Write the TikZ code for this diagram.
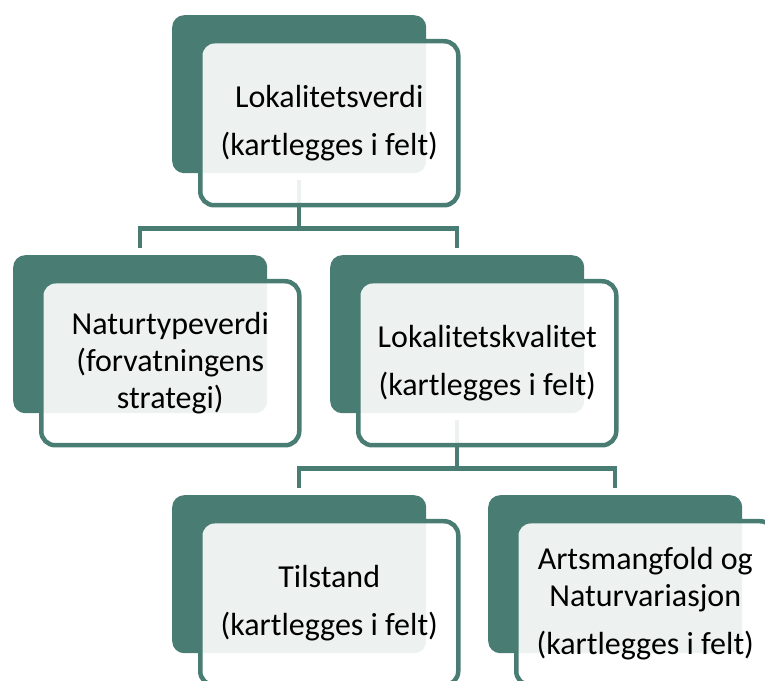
\documentclass[tikz,border=0pt]{standalone}
\usepackage{fontspec}
\setmainfont{Carlito}
\usepackage{tikz}
\definecolor{smteal}{HTML}{497D74}
\tikzset{
	backbox/.style={anchor=north west, fill=smteal, rounded corners=12pt, inner sep=0pt, minimum width=254pt, minimum height=158pt},
	frontbox/.style={anchor=north west, draw=smteal, line width=4.5pt, fill=white, fill opacity=0.9, text opacity=1, rounded corners=14pt, inner sep=0pt, minimum width=258pt, minimum height=164pt, align=center, font=\fontsize{32}{37}\selectfont},
	link/.style={draw=smteal, line width=4.5pt, shorten <=7pt, shorten >=7pt}
}

\begin{document}
\begin{tikzpicture}[x=1pt, y=1pt]
		%%%%% START %%%%%
		
		\clip (0, 0) rectangle (765, 680);
		\useasboundingbox (0, 0) rectangle (765, 680);
		
		% back boxes
		\node[backbox] (lvB) at (172, 665) {};
		\node[backbox] (natB) at (13, 425) {};
		\node[backbox] (lkB) at (330, 425) {};
		\node[backbox] (tilB) at (172, 185) {};
		\node[backbox] (artB) at (488, 185) {};
		
		% connectors
		\draw[link] (lvB.south) -- ++(0, -55) -| (natB.north);
		\draw[link] (lvB.south) -- ++(0, -55) -| (lkB.north);
		\draw[link] (lkB.south) -- ++(0, -55) -| (tilB.north);
		\draw[link] (lkB.south) -- ++(0, -55) -| (artB.north);
		
		% front boxes
		\node[frontbox] (lv) at (198, 641) {Lokalitetsverdi\\[11pt](kartlegges i felt)};
		\node[frontbox] (nat) at (39, 401) {Naturtypeverdi\\(forvatningens\\strategi)};
		\node[frontbox] (lk) at (356, 401) {Lokalitetskvalitet\\[11pt](kartlegges i felt)};
		\node[frontbox] (til) at (198, 161) {Tilstand\\[11pt](kartlegges i felt)};
		\node[frontbox] (art) at (514, 161) {Artsmangfold og\\Naturvariasjon\\[11pt](kartlegges i felt)};
		
		%%%%% END %%%%%
	\end{tikzpicture}
\end{document}
